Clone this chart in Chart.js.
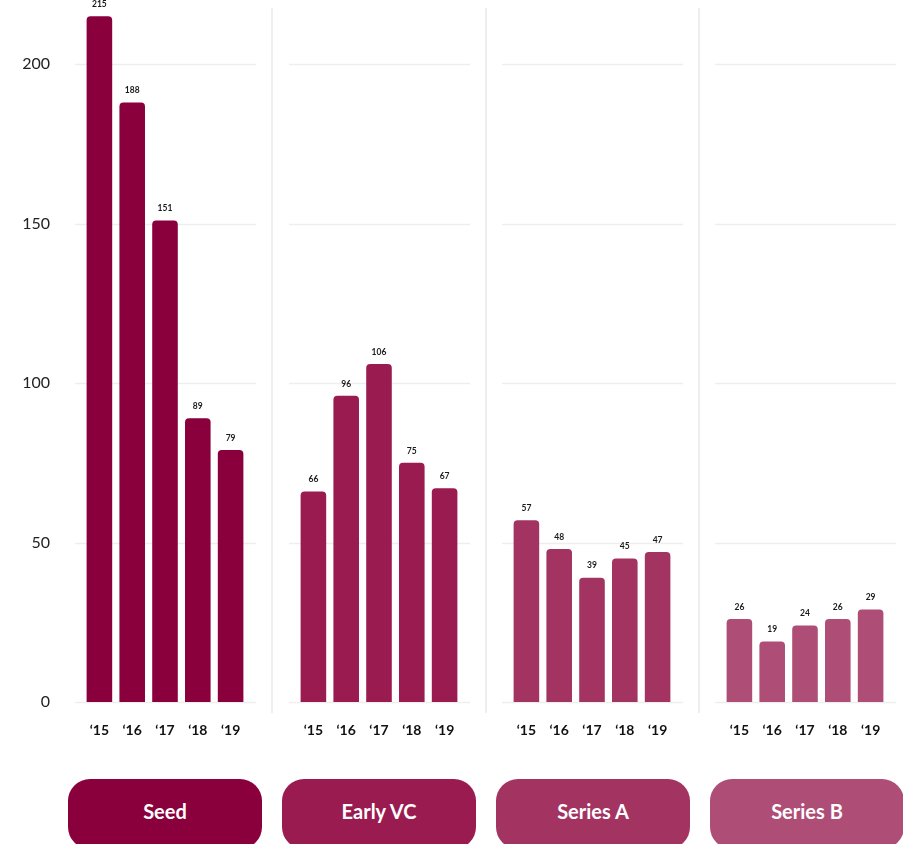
<!DOCTYPE html>
<html>
<head>
<meta charset="utf-8">
<script src="https://cdn.jsdelivr.net/npm/chart.js@4.4.1/dist/chart.umd.min.js"></script>
<style>
  html, body { margin: 0; padding: 0; background: #fff; }
  body { width: 903px; height: 844px; position: relative; overflow: hidden; font-family: Lato, sans-serif; }
  .panel { position: absolute; top: -10px; height: 770px; }
  .pill { position: absolute; top: 779px; width: 194px; height: 70px; border-radius: 22px;
          color: #fff; font: bold 20px Lato, sans-serif; text-align: center; line-height: 64px; }
</style>
</head>
<body>
<div class="panel" style="left:0;width:273px"><canvas id="c0"></canvas></div>
<div class="panel" style="left:271px;width:216px"><canvas id="c1"></canvas></div>
<div class="panel" style="left:484px;width:216px"><canvas id="c2"></canvas></div>
<div class="panel" style="left:697px;width:216px"><canvas id="c3"></canvas></div>
<div id="pills"></div>

<script>
const years = ['‘15', '‘16', '‘17', '‘18', '‘19'];
const stages = ['Seed', 'Early VC', 'Series A', 'Series B'];
const seed = [215, 188, 151, 89, 79];
const earlyVc = [66, 96, 106, 75, 67];
const seriesA = [57, 48, 39, 45, 47];
const seriesB = [26, 19, 24, 26, 29];
const yTicks = [0, 50, 100, 150, 200];

const panelData = [seed, earlyVc, seriesA, seriesB];
const barColors = ['#8a003c', '#9a1b50', '#a33462', '#ae4d76'];
const pillLeft = [68, 282, 496, 710];

Chart.defaults.font.family = 'Lato, sans-serif';
Chart.defaults.color = '#222';

// light grid per panel, divider on the right, value above each bar
const panelFrame = {
    id: 'panelFrame',
    beforeDatasetsDraw(chart, args, opts) {
        const { ctx, chartArea } = chart;
        const y = chart.scales.y;
        ctx.save();
        ctx.strokeStyle = '#eeeeee';
        ctx.lineWidth = 1.5;
        yTicks.forEach(v => {
            const py = Math.round(y.getPixelForValue(v)) + 0.5;
            ctx.beginPath();
            ctx.moveTo(chartArea.left - 8, py);
            ctx.lineTo(chartArea.right + 9, py);
            ctx.stroke();
        });
        if (opts.divider) {
            const x = chartArea.right + 25;
            ctx.lineWidth = 2;
            ctx.beginPath();
            ctx.moveTo(x, chartArea.top + 6);
            ctx.lineTo(x, chartArea.bottom + 11);
            ctx.stroke();
        }
        ctx.restore();
    },
    afterDatasetsDraw(chart) {
        const ctx = chart.ctx;
        const values = chart.data.datasets[0].data;
        ctx.save();
        ctx.font = 'bold 8.5px Lato, sans-serif';
        ctx.fillStyle = '#1a1a1a';
        ctx.textAlign = 'center';
        ctx.textBaseline = 'middle';
        chart.getDatasetMeta(0).data.forEach((bar, i) => {
            ctx.fillText(values[i], bar.x, bar.y - 12);
        });
        ctx.restore();
    }
};

function makePanel(i) {
    const first = i === 0;
    const yScale = {
        display: first,
        min: 0,
        max: 219.5,
        grid: { display: false, drawTicks: false },
        border: { display: false },
        afterBuildTicks: s => { s.ticks = yTicks.map(v => ({ value: v })); },
        ticks: { padding: 33, color: '#222', font: { size: 16 } }
    };
    if (first) {
        // fixed axis width; keep the label padding from shrinking the plot
        yScale.afterFit = s => {
            s.width = 83;
            s.paddingTop = 10;
            s.paddingBottom = 10;
        };
    }

    return new Chart(document.getElementById('c' + i), {
        type: 'bar',
        data: {
            labels: years,
            datasets: [{
                data: panelData[i],
                backgroundColor: barColors[i],
                borderRadius: 4,
                categoryPercentage: 1,
                barPercentage: 0.78
            }]
        },
        options: {
            responsive: true,
            maintainAspectRatio: false,
            animation: false,
            layout: { padding: { top: 12, bottom: 0, left: first ? 0 : 26, right: 26 } },
            plugins: {
                legend: { display: false },
                tooltip: { enabled: false },
                panelFrame: { divider: i < 3 }
            },
            scales: {
                x: {
                    grid: { display: false, drawTicks: false },
                    border: { display: false },
                    ticks: { padding: 20, color: '#111', font: { size: 14, weight: 'bold' } },
                    afterFit: s => { s.height = 58; }
                },
                y: yScale
            }
        },
        plugins: [panelFrame]
    });
}

panelData.forEach((d, i) => makePanel(i));

// stage pills under each panel
const pills = document.getElementById('pills');
stages.forEach((name, i) => {
    const el = document.createElement('div');
    el.className = 'pill';
    el.style.left = pillLeft[i] + 'px';
    el.style.background = barColors[i];
    el.textContent = name;
    pills.appendChild(el);
});
</script>
</body>
</html>
